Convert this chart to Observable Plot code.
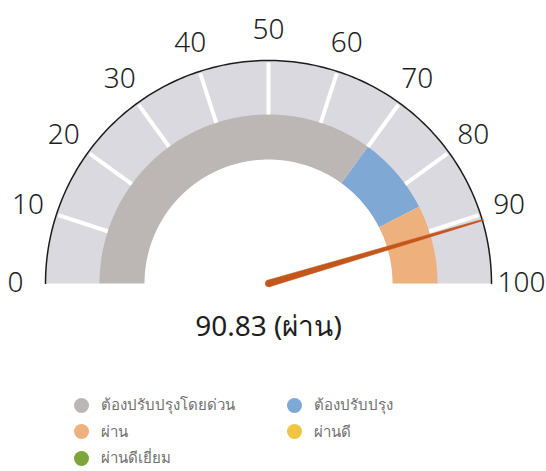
<!DOCTYPE html>
<html>
<head>
<meta charset="utf-8">
<script src="https://cdn.jsdelivr.net/npm/d3@7"></script>
<script src="https://cdn.jsdelivr.net/npm/@observablehq/plot@0.6"></script>
<style>
  html, body { margin: 0; padding: 0; background: #ffffff; }
  body { font-family: "Noto Sans", "Open Sans", sans-serif; width: 546px; height: 471px; position: relative; overflow: hidden; }
  #chart { position: absolute; left: 0; top: 0; }
  #legend { position: absolute; left: 74px; top: 392px; display: grid; grid-template-columns: 213px 200px; grid-auto-rows: 26.5px; }
  .item { display: flex; align-items: center; font-size: 15px; color: #707070; }
  .sw { width: 15px; height: 15px; border-radius: 50%; margin-right: 12px; flex: none; }
</style>
</head>
<body>
<div id="chart"></div>
<div id="legend"></div>
<script>
// ---- data ----
const tickValues = [0, 10, 20, 30, 40, 50, 60, 70, 80, 90, 100];
const tickLabels = ["0", "10", "20", "30", "40", "50", "60", "70", "80", "90", "100"];
const bandCategories = ["ต้องปรับปรุงโดยด่วน", "ต้องปรับปรุง", "ผ่าน"];
const bandStart = [0, 70, 85];
const bandEnd = [70, 85, 100];
const legendCategories = ["ต้องปรับปรุงโดยด่วน", "ต้องปรับปรุง", "ผ่าน", "ผ่านดี", "ผ่านดีเยี่ยม"];
const legendColors = ["#bcb7b5", "#80a8d4", "#eeb07d", "#f2c444", "#7ea53c"];
const score = 90.83;
const scoreLabel = "ผ่าน";

// ---- geometry (pixels) ----
const W = 546, H = 360;
const cx = 268, cy = 283;          // gauge centre in the SVG
const R = 223;                      // outer arc radius
const rBandOut = 169, rBandIn = 124; // inner coloured band
const rLabel = 253;

const ang = v => Math.PI * (1 - v / 100);
const px = (v, r) => r * Math.cos(ang(v));
const py = (v, r) => r * Math.sin(ang(v));

function ring(v0, v1, r0, r1, key) {
  const pts = [];
  const n = Math.max(2, Math.ceil((v1 - v0) * 2));
  for (let i = 0; i <= n; i++) { const v = v0 + (v1 - v0) * i / n; pts.push({x: px(v, r1), y: py(v, r1), key}); }
  for (let i = n; i >= 0; i--) { const v = v0 + (v1 - v0) * i / n; pts.push({x: px(v, r0), y: py(v, r0), key}); }
  return pts;
}

const outerBand = ring(0, 100, rBandOut - 1, R, "outer");
const bands = bandCategories.flatMap((c, i) => ring(bandStart[i], bandEnd[i], rBandIn, rBandOut, c));
const rim = d3.range(0, 100.01, 0.5).map(v => ({x: px(v, R), y: py(v, R)}));
const innerTicks = tickValues.filter(v => v > 0 && v < 100);
const labels = tickValues.map((v, i) => ({v, label: tickLabels[i]}));

// tapered needle
const nA = ang(score), nx = Math.cos(nA), ny = Math.sin(nA), qx = -ny, qy = nx;
const baseW = 3.4, tipW = 0.6, nLen = R + 1;
const needle = [
  {x: qx * baseW, y: qy * baseW},
  {x: nx * nLen + qx * tipW, y: ny * nLen + qy * tipW},
  {x: nx * nLen - qx * tipW, y: ny * nLen - qy * tipW},
  {x: -qx * baseW, y: -qy * baseW}
];
const needleColor = "#c4561c";

const chart = Plot.plot({
  width: W,
  height: H,
  margin: 0,
  x: {domain: [-cx, W - cx], axis: null},
  y: {domain: [-(H - cy), cy], axis: null},
  color: {domain: legendCategories, range: legendColors},
  style: {background: "transparent", fontFamily: "'Noto Sans', 'Open Sans', sans-serif"},
  marks: [
    Plot.line(outerBand, {x: "x", y: "y", fill: "#dad9df", stroke: null}),
    Plot.line(bands, {x: "x", y: "y", z: "key", fill: "key", stroke: null}),
    Plot.link(innerTicks, {x1: v => px(v, rBandOut), y1: v => py(v, rBandOut), x2: v => px(v, R - 2), y2: v => py(v, R - 2), stroke: "#ffffff", strokeWidth: 4}),
    Plot.line(rim, {x: "x", y: "y", stroke: "#1c1c1c", strokeWidth: 1.5}),
    Plot.line(needle, {x: "x", y: "y", fill: needleColor, stroke: needleColor, strokeWidth: 0.6}),
    Plot.dot([0], {x: () => 0, y: () => 0, r: baseW, fill: needleColor}),
    Plot.text(labels, {x: d => px(d.v, rLabel), y: d => py(d.v, rLabel), text: "label", fontSize: 28, fontWeight: 300, fill: "#1e1e1e"}),
    Plot.text([`${score} (${scoreLabel})`], {x: () => 0, y: () => -44, text: d => d, fontSize: 28, fill: "#1e1e1e"})
  ]
});
document.getElementById("chart").appendChild(chart);

// legend
const legend = document.getElementById("legend");
legendCategories.forEach((c, i) => {
  const it = document.createElement("div");
  it.className = "item";
  const sw = document.createElement("span");
  sw.className = "sw";
  sw.style.background = legendColors[i];
  const t = document.createElement("span");
  t.textContent = c;
  it.appendChild(sw); it.appendChild(t);
  legend.appendChild(it);
});
</script>
</body>
</html>
